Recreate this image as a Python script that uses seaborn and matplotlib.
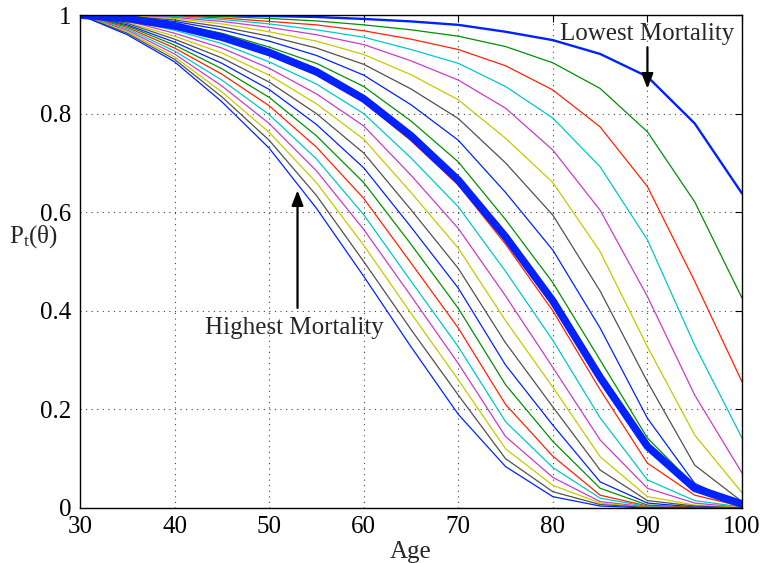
import numpy as np
import pandas as pd
import matplotlib
matplotlib.use("Agg")
import matplotlib.pyplot as plt
import seaborn as sns

ages = [30, 35, 40, 45, 50, 55, 60, 65, 70, 75, 80, 85, 90, 95, 100]

c01 = [1, 1.0, 1.0, 0.999, 0.998, 0.996, 0.992, 0.987, 0.98, 0.966, 0.949, 0.921, 0.875, 0.78, 0.638]
c02 = [1, 1.0, 0.999, 0.997, 0.993, 0.988, 0.98, 0.97, 0.957, 0.936, 0.903, 0.851, 0.763, 0.621, 0.426]
c03 = [1, 0.9995, 0.998, 0.994, 0.987, 0.98, 0.968, 0.951, 0.93, 0.897, 0.848, 0.773, 0.652, 0.46, 0.256]
c04 = [1, 0.999, 0.997, 0.991, 0.982, 0.97, 0.955, 0.93, 0.902, 0.855, 0.791, 0.692, 0.544, 0.33, 0.142]
c05 = [1, 0.999, 0.995, 0.987, 0.975, 0.96, 0.94, 0.907, 0.868, 0.811, 0.726, 0.604, 0.429, 0.229, 0.071]
c06 = [1, 0.998, 0.993, 0.982, 0.966, 0.947, 0.92, 0.879, 0.828, 0.75, 0.66, 0.52, 0.327, 0.148, 0.031]
c07 = [1, 0.997, 0.99, 0.976, 0.957, 0.933, 0.9, 0.85, 0.79, 0.70, 0.594, 0.44, 0.256, 0.087, 0.013]
c08 = [1, 0.996, 0.987, 0.97, 0.947, 0.918, 0.878, 0.818, 0.746, 0.64, 0.523, 0.365, 0.182, 0.05, 0.006]
c09 = [1, 0.995, 0.983, 0.963, 0.935, 0.902, 0.855, 0.785, 0.702, 0.585, 0.457, 0.30, 0.142, 0.045, 0.005]
c10 = [1, 0.992, 0.975, 0.951, 0.918, 0.878, 0.823, 0.745, 0.655, 0.535, 0.40, 0.24, 0.091, 0.026, 0.003]
c11 = [1, 0.99, 0.969, 0.942, 0.905, 0.86, 0.80, 0.71, 0.611, 0.48, 0.34, 0.183, 0.057, 0.015, 0.002]
c12 = [1, 0.988, 0.963, 0.933, 0.892, 0.84, 0.775, 0.675, 0.567, 0.43, 0.285, 0.138, 0.04, 0.01, 0.001]
c13 = [1, 0.985, 0.957, 0.923, 0.878, 0.82, 0.748, 0.64, 0.527, 0.38, 0.245, 0.104, 0.023, 0.006, 0.001]
c14 = [1, 0.983, 0.951, 0.913, 0.864, 0.80, 0.72, 0.605, 0.486, 0.335, 0.205, 0.077, 0.015, 0.004, 0.0]
c15 = [1, 0.98, 0.945, 0.902, 0.849, 0.778, 0.69, 0.57, 0.446, 0.29, 0.168, 0.053, 0.01, 0.002, 0.0]
c16 = [1, 0.978, 0.939, 0.891, 0.833, 0.755, 0.66, 0.535, 0.405, 0.25, 0.135, 0.04, 0.006, 0.001, 0.0]
c17 = [1, 0.975, 0.933, 0.88, 0.816, 0.732, 0.628, 0.497, 0.365, 0.21, 0.105, 0.026, 0.004, 0.001, 0.0]
c18 = [1, 0.972, 0.927, 0.868, 0.798, 0.708, 0.595, 0.46, 0.327, 0.175, 0.082, 0.02, 0.003, 0.0, 0.0]
c19 = [1, 0.969, 0.921, 0.856, 0.78, 0.684, 0.565, 0.43, 0.293, 0.145, 0.062, 0.013, 0.002, 0.0, 0.0]
c20 = [1, 0.966, 0.915, 0.844, 0.762, 0.66, 0.533, 0.395, 0.26, 0.12, 0.046, 0.01, 0.001, 0.0, 0.0]
c21 = [1, 0.963, 0.91, 0.834, 0.746, 0.634, 0.50, 0.362, 0.229, 0.10, 0.033, 0.007, 0.001, 0.0, 0.0]
c22 = [1, 0.96, 0.905, 0.824, 0.73, 0.608, 0.47, 0.327, 0.19, 0.084, 0.023, 0.004, 0.0, 0.0, 0.0]
baseline = [1, 0.993, 0.978, 0.955, 0.924, 0.885, 0.83, 0.755, 0.665, 0.55, 0.42, 0.265, 0.125, 0.04, 0.008]

x_ticks = [30, 40, 50, 60, 70, 80, 90, 100]
y_ticks = [0, 0.2, 0.4, 0.6, 0.8, 1]
y_tick_labels = ["0", "0.2", "0.4", "0.6", "0.8", "1"]
x_label = "Age"
y_label = "P$_\\mathregular{t}$(θ)"
label_low = "Lowest Mortality"
label_high = "Highest Mortality"

thin_curves = [c02, c03, c04, c05, c06, c07, c08, c09, c10, c11, c12, c13,
               c14, c15, c16, c17, c18, c19, c20, c21, c22]
cycle = ["#0022ff", "#009000", "#ff2200", "#00c8c8", "#c83cc8", "#c8c800", "#505050"]

sns.set_style("white")
plt.rcParams["font.family"] = ["Liberation Serif", "DejaVu Serif"]
plt.rcParams["mathtext.default"] = "regular"

fig = plt.figure(figsize=(7.63, 5.63), dpi=100)
ax = fig.add_axes([80 / 763, 55 / 563, 662 / 763, 493 / 563])

rows = []
for i, cur in enumerate(thin_curves):
    for a, v in zip(ages, cur):
        rows.append({"age": a, "p": v, "curve": f"k{i + 2:02d}"})
df = pd.DataFrame(rows)
pal = {f"k{i + 2:02d}": cycle[(i + 1) % 7] for i in range(len(thin_curves))}

sns.lineplot(x=ages, y=c01, color=cycle[0], lw=1.7, ax=ax, estimator=None)
sns.lineplot(data=df, x="age", y="p", hue="curve", palette=pal, lw=0.9,
             estimator=None, legend=False, ax=ax, sort=False)
sns.lineplot(x=ages, y=baseline, color="#0022ff", lw=5.5, ax=ax, estimator=None)

ax.set_xlim(30, 100)
ax.set_ylim(0, 1)
ax.set_xticks(x_ticks)
ax.set_yticks(y_ticks)
ax.set_yticklabels(y_tick_labels)
ax.tick_params(direction="in", length=5, width=0.8, labelsize=18, top=True, right=True,
               colors="black", pad=6)
ax.grid(True, linestyle=(0, (1, 4)), color="#444444", lw=0.8)
for s in ax.spines.values():
    s.set_visible(True)
    s.set_color("black")
    s.set_linewidth(1.0)

ax.set_xlabel(x_label, fontsize=18, labelpad=2)
ax.set_ylabel(y_label, fontsize=18, rotation=0, ha="center", va="center")
ax.yaxis.set_label_coords(-0.07, 0.55)

arrow_style = "-|>,head_length=0.9,head_width=0.35"
ax.annotate("", xy=(90, 0.845), xytext=(90, 0.94),
            arrowprops=dict(arrowstyle=arrow_style, color="black", lw=1.6))
ax.text(90, 0.962, label_low, fontsize=18, ha="center", va="center")
ax.annotate("", xy=(53, 0.65), xytext=(53, 0.40),
            arrowprops=dict(arrowstyle=arrow_style, color="black", lw=1.6))
ax.text(52.7, 0.366, label_high, fontsize=18, ha="center", va="center")

fig.savefig("out.png", dpi=100)
